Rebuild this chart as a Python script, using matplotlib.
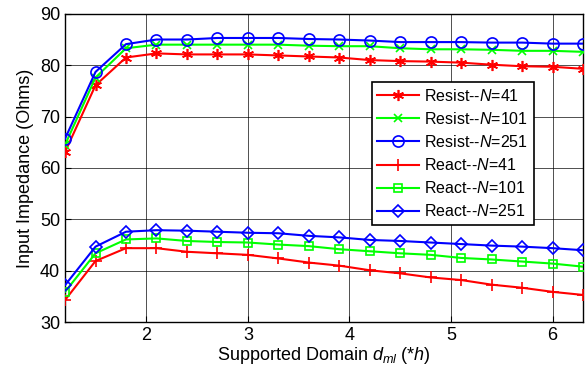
import matplotlib
matplotlib.use("Agg")
import matplotlib.pyplot as plt
import numpy as np

plt.rcParams['font.family'] = ['Liberation Sans', 'DejaVu Sans']
plt.rcParams['mathtext.fontset'] = 'custom'
plt.rcParams['mathtext.rm'] = 'Liberation Sans'
plt.rcParams['mathtext.it'] = 'Liberation Sans:italic'

x = [1.2, 1.5, 1.8, 2.1, 2.4, 2.7, 3.0, 3.3, 3.6, 3.9, 4.2, 4.5, 4.8, 5.1, 5.4, 5.7, 6.0, 6.3]

resist_41 = [63.1, 76.1, 81.5, 82.3, 82.1, 82.1, 82.1, 81.9, 81.7, 81.5, 81.0, 80.8, 80.7, 80.5, 80.1, 79.8, 79.7, 79.3]
resist_101 = [64.5, 77.6, 83.3, 84.0, 84.0, 84.0, 84.0, 84.0, 83.8, 83.7, 83.7, 83.3, 83.1, 83.1, 83.0, 82.8, 82.8, 82.6]
resist_251 = [65.7, 78.7, 84.1, 85.0, 85.0, 85.3, 85.3, 85.3, 85.1, 85.0, 84.8, 84.5, 84.5, 84.5, 84.4, 84.4, 84.2, 84.2]
react_41 = [34.3, 41.9, 44.4, 44.4, 43.7, 43.4, 43.1, 42.4, 41.6, 41.0, 40.1, 39.5, 38.7, 38.2, 37.3, 36.7, 35.9, 35.3]
react_101 = [35.9, 43.4, 46.1, 46.3, 45.8, 45.6, 45.5, 45.1, 44.8, 44.2, 43.8, 43.4, 43.1, 42.5, 42.2, 41.8, 41.4, 40.8]
react_251 = [37.2, 44.7, 47.6, 47.9, 47.8, 47.6, 47.4, 47.3, 46.8, 46.5, 46.0, 45.8, 45.5, 45.2, 44.9, 44.7, 44.4, 44.0]

labels = ['Resist--$N$=41', 'Resist--$N$=101', 'Resist--$N$=251',
          'React--$N$=41', 'React--$N$=101', 'React--$N$=251']
xticks = [2, 3, 4, 5, 6]
yticks = [30, 40, 50, 60, 70, 80, 90]

fig = plt.figure(figsize=(5.86, 3.84), dpi=100)
ax = fig.add_axes([0.111, 0.161, 0.884, 0.803])

series = [resist_41, resist_101, resist_251, react_41, react_101, react_251]
colors = ['#ff0000', '#00ff00', '#0000ff', '#ff0000', '#00ff00', '#0000ff']
markers = [(6, 2, 0), 'x', 'o', '+', 's', 'D']
msizes = [8, 6, 8, 9, 6, 6.5]
for s, c, m, ms, lab in zip(series, colors, markers, msizes, labels):
    filled = isinstance(m, tuple) or m in 'x+'
    ax.plot(x, s, color=c, marker=m, markersize=ms, markerfacecolor=c if filled else 'none',
            markeredgecolor=c, markeredgewidth=1.2, linewidth=1.5, label=lab, zorder=3)

ax.set_xlim(1.2, 6.3)
ax.set_ylim(30, 90)
ax.set_xticks(xticks)
ax.set_yticks(yticks)
ax.grid(True, color='black', linewidth=0.6, alpha=0.8)
ax.tick_params(direction='in', labelsize=13, length=4)
for sp in ax.spines.values():
    sp.set_linewidth(1.0)
ax.set_ylabel('Input Impedance (Ohms)', fontsize=13)
ax.set_xlabel('Supported Domain $d_{ml}$ (*$h$)', fontsize=13, labelpad=1)

leg = ax.legend(loc='upper right', bbox_to_anchor=(0.905, 0.779), fontsize=11.5,
                frameon=True, fancybox=False, edgecolor='black', framealpha=1,
                handlelength=2.6, handletextpad=0.35, borderpad=0.35,
                labelspacing=0.45, borderaxespad=0)
leg.get_frame().set_linewidth(1.2)

fig.savefig('out.png', dpi=100)
